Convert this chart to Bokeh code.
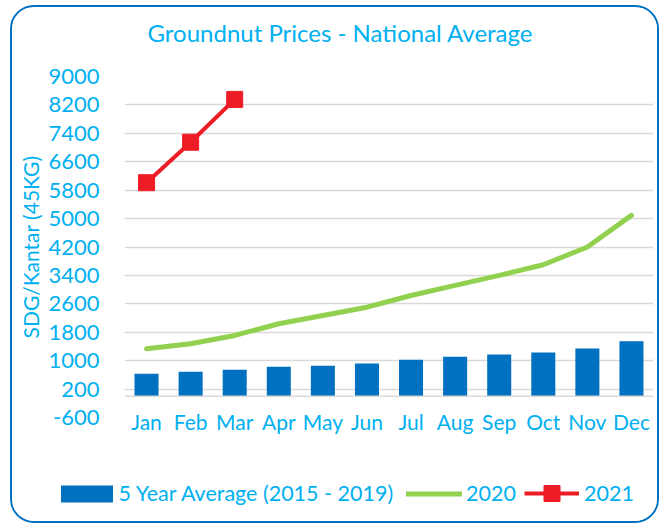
from bokeh.plotting import figure
from bokeh.layouts import column
from bokeh.models import FactorRange, FixedTicker, Span, Legend, LegendItem, Title
from bokeh.embed import file_html
from bokeh.resources import INLINE

# ---- data ----
months = ["Jan", "Feb", "Mar", "Apr", "May", "Jun", "Jul", "Aug", "Sep", "Oct", "Nov", "Dec"]
avg_5yr = [630, 690, 745, 830, 860, 920, 1025, 1110, 1175, 1230, 1345, 1545]
prices_2020 = [1335, 1475, 1710, 2040, 2270, 2505, 2835, 3120, 3400, 3700, 4200, 5090]
months_2021 = ["Jan", "Feb", "Mar"]
prices_2021 = [6010, 7150, 8355]
y_ticks = [-600, 200, 1000, 1800, 2600, 3400, 4200, 5000, 5800, 6600, 7400, 8200, 9000]
series_names = ["5 Year Average (2015 - 2019)", "2020", "2021"]

TXT = "#00B0F0"
FONT = "Lato"
BLUE, GREEN, RED = "#0070C0", "#92D050", "#EE1C25"

p = figure(x_range=FactorRange(factors=months, range_padding=0), y_range=(-600, 9000),
           width=645, height=450, output_backend="svg", toolbar_location=None,
           min_border_left=112, min_border_right=4, min_border_top=69, min_border_bottom=40,
           frame_align=False)
p.outline_line_color = None
p.background_fill_color = "white"
p.border_fill_color = "white"

# spacer (closest to frame) then the title above it
p.add_layout(Title(text=" ", text_font=FONT, text_font_size="23px", standoff=0), "above")
p.add_layout(Title(text="Groundnut Prices - National Average", align="left", offset=23,
                   text_color=TXT, text_font=FONT, text_font_size="24px",
                   text_font_style="normal", standoff=0), "above")

# grids
p.xgrid.grid_line_color = None
p.ygrid.grid_line_color = "#D9D9D9"
p.ygrid.grid_line_width = 1.5

# y axis
p.yaxis.ticker = FixedTicker(ticks=y_ticks)
p.yaxis.major_label_overrides = {-600: "-600"}
p.yaxis.axis_line_color = None
p.yaxis.major_tick_line_color = None
p.yaxis.minor_tick_line_color = None
p.yaxis.major_label_text_color = TXT
p.yaxis.major_label_text_font = FONT
p.yaxis.major_label_text_font_size = "22px"
p.yaxis.major_label_standoff = 19
p.yaxis.axis_label = "SDG/Kantar (45KG)"
p.yaxis.axis_label_text_color = TXT
p.yaxis.axis_label_text_font = FONT
p.yaxis.axis_label_text_font_size = "21px"
p.yaxis.axis_label_text_font_style = "normal"
p.yaxis.axis_label_standoff = 2

# x axis
p.xaxis.axis_line_color = None
p.xaxis.major_tick_line_color = None
p.xaxis.minor_tick_line_color = None
p.xaxis.major_label_text_color = TXT
p.xaxis.major_label_text_font = FONT
p.xaxis.major_label_text_font_size = "21px"
p.xaxis.major_label_standoff = -15

# zero line (category axis crossing)
p.add_layout(Span(location=0, dimension="width", line_color="#D9D9D9", line_width=1.5))

p.vbar(x=months, top=avg_5yr, bottom=0, width=0.545, fill_color=BLUE, line_color=None)
p.line(x=months, y=prices_2020, line_color=GREEN, line_width=5,
       line_cap="round", line_join="round")
p.line(x=months_2021, y=prices_2021, line_color=RED, line_width=4)
p.scatter(x=months_2021, y=prices_2021, marker="square", size=16,
          fill_color=RED, line_color=RED)

# ---- legend strip (separate figure below; proxy renderers kept outside its view) ----
lg = figure(width=645, height=64, x_range=(0, 1), y_range=(0, 1), output_backend="svg",
            toolbar_location=None, x_axis_type=None, y_axis_type=None, frame_align=False,
            min_border_left=0, min_border_right=0, min_border_top=0, min_border_bottom=0)
lg.outline_line_color = None
lg.xgrid.visible = False
lg.ygrid.visible = False
lb = lg.vbar(x=[5], top=[6], bottom=[5], width=0.5, fill_color=BLUE, line_color=None)
ll = lg.line(x=[5, 6], y=[5, 6], line_color=GREEN, line_width=5, line_cap="round")
lr = lg.line(x=[5, 6], y=[5, 6], line_color=RED, line_width=4)
lm = lg.scatter(x=[5], y=[5], marker="square", size=16, fill_color=RED, line_color=RED)

common = dict(orientation="horizontal", padding=0, margin=0, border_line_color=None,
              background_fill_alpha=0, label_text_color=TXT, label_text_font=FONT,
              label_text_font_size="21.5px")
leg1 = Legend(items=[LegendItem(label=series_names[0], renderers=[lb])],
              location=(41.5, 15), glyph_width=65, glyph_height=21, label_standoff=0, **common)
leg2 = Legend(items=[LegendItem(label=series_names[1], renderers=[ll])],
              location=(394, 15), glyph_width=56, glyph_height=17, label_standoff=4, **common)
leg3 = Legend(items=[LegendItem(label=series_names[2], renderers=[lr, lm])],
              location=(512, 8), glyph_width=55, glyph_height=40, label_standoff=5, **common)
for leg in (leg1, leg2, leg3):
    lg.add_layout(leg, "center")

layout = column(p, lg, spacing=0)
layout.styles = {"border": "2px solid #0070C0", "border-radius": "24px",
                 "box-sizing": "content-box", "margin-left": "10px", "margin-top": "5px",
                 "overflow": "hidden"}

open("out.html", "w").write(file_html(layout, INLINE))
